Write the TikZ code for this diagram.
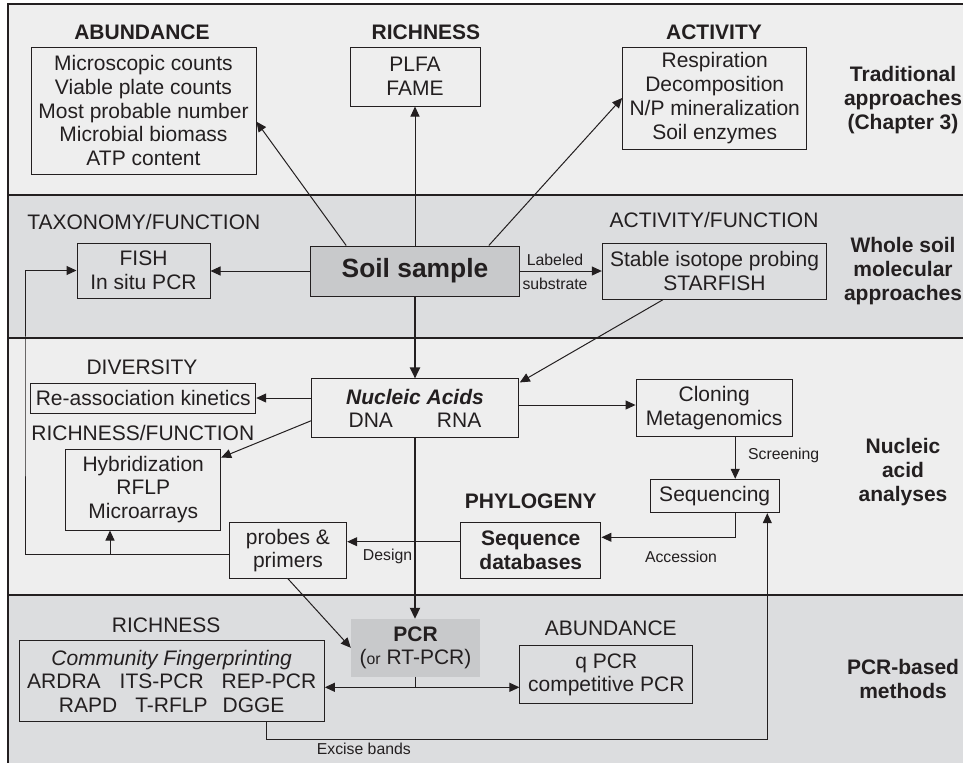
\documentclass[tikz,border=0pt]{standalone}
\usepackage{fontspec}
\setmainfont{Liberation Sans}
\usetikzlibrary{arrows.meta,calc}
\definecolor{bandL}{HTML}{EEEEEE}
\definecolor{bandD}{HTML}{DCDDDF}
\definecolor{boxD}{HTML}{C8C9CB}
\definecolor{ink}{HTML}{231F20}
\newcommand\fntN{\fontsize{21}{23.8}\selectfont}
\newcommand\fntS{\fontsize{15.8}{18}\selectfont}
\newcommand\fntL{\fontsize{26.4}{30}\selectfont\bfseries}
\begin{document}
\begin{tikzpicture}[x=1pt,y=-1pt,
 every node/.style={text=ink, font=\fntN},
 box/.style={draw=ink, line width=1pt, inner sep=0pt, align=center},
 ttl/.style={inner sep=0pt, align=center},
 btl/.style={inner sep=0pt, align=center, font=\fntN\bfseries},
 lbl/.style={inner sep=0pt, font=\fntS},
 arr/.style={draw=ink, line width=1pt, -{Triangle[length=10pt,width=9pt]}},
 tarr/.style={draw=ink, line width=2.2pt, -{Triangle[length=11pt,width=10pt]}},
 ln/.style={draw=ink, line width=1pt},
 sep/.style={draw=ink, line width=1.2pt}]
\useasboundingbox (0,0) rectangle (963,763);
% bands
\fill[bandL] (8,4) rectangle (963,195);
\fill[bandD] (8,195) rectangle (963,338);
\fill[bandL] (8,338) rectangle (963,595);
\fill[bandD] (8,595) rectangle (963,763);
\draw[sep] (963,4) -- (8,4) -- (8,763);
\draw[sep] (8,195) -- (963,195);
\draw[sep] (8,338) -- (963,338);
\draw[sep] (8,595) -- (963,595);

% titles
\node[btl] (tAb) at (142,32) {ABUNDANCE};
\node[btl] (tRi) at (426,32) {RICHNESS};
\node[btl] (tAc) at (714,32) {ACTIVITY};
\node[ttl] (tTax) at (143.8,221.7) {TAXONOMY/FUNCTION};
\node[ttl] (tAF) at (714,220) {ACTIVITY/FUNCTION};
\node[ttl] (tDiv) at (142,367) {DIVERSITY};
\node[ttl] (tRF) at (142.8,433) {RICHNESS/FUNCTION};
\node[btl] (tPhy) at (530.8,501.7) {PHYLOGENY};
\node[ttl] (tRi2) at (166.2,625) {RICHNESS};
\node[ttl] (tAb2) at (610.8,628.3) {ABUNDANCE};

% side labels
\node[btl] (sTr) at (903,100) {Traditional\\approaches\\(Chapter 3)};
\node[btl] (sWh) at (903,271) {Whole soil\\molecular\\approaches};
\node[btl] (sNu) at (903,472) {Nucleic\\acid\\analyses};
\node[btl] (sPc) at (903,679) {PCR-based\\methods};

% boxes
\node[box, minimum width=225pt, minimum height=127pt] (abund) at (143.5,110.5)
  {Microscopic counts\\Viable plate counts\\Most probable number\\Microbial biomass\\ATP content};
\node[box, minimum width=130pt, minimum height=59pt] (plfa) at (415,76.5) {PLFA\\FAME};
\node[box, minimum width=184pt, minimum height=102pt] (act) at (714.7,98)
  {Respiration\\Decomposition\\N/P mineralization\\Soil enzymes};
\node[box, fill=boxD, minimum width=208.6pt, minimum height=50pt, font=\fntL] (soil) at (415,271) {Soil sample};
\node[box, minimum width=133pt, minimum height=55pt] (fish) at (143.5,270.5) {FISH\\In situ PCR};
\node[box, minimum width=224.4pt, minimum height=56pt] (sip) at (714.5,271.3) {Stable isotope probing\\STARFISH};
\node[box, minimum width=225pt, minimum height=30pt] (reassoc) at (143.2,398) {Re-association kinetics};
\node[box, minimum width=155pt, minimum height=81pt] (hyb) at (143.2,489.5) {Hybridization\\RFLP\\Microarrays};
\node[box, minimum width=206.6pt, minimum height=58.7pt] (na) at (415,408.3)
  {{\bfseries\itshape Nucleic Acids}\\DNA\hspace{44pt}RNA};
\node[box, minimum width=156.3pt, minimum height=57.4pt] (clon) at (714.2,408) {Cloning\\Metagenomics};
\node[box, minimum width=129.3pt, minimum height=33.4pt] (seq) at (714.7,496) {Sequencing};
\node[box, minimum width=140.3pt, minimum height=56pt, font=\fntN\bfseries] (sdb) at (530.8,550.3) {Sequence\\databases};
\node[box, minimum width=117.4pt, minimum height=55.6pt] (probes) at (288,550.5) {probes \&\\primers};
\node[fill=boxD, inner sep=0pt, align=center, minimum width=129pt, minimum height=57.7pt] (pcr) at (415.5,647.8)
  {\textbf{PCR}\\({\fntS or} RT-PCR)};
\node[box, minimum width=305.3pt, minimum height=80.7pt] (finger) at (171.7,681.3)
  {\itshape Community Fingerprinting\\ARDRA\hspace{19pt}ITS-PCR\hspace{18pt}REP-PCR\\RAPD\hspace{18pt}T-RFLP\hspace{15pt}DGGE};
\node[box, minimum width=172.7pt, minimum height=58.3pt] (qpcr) at (606.3,674.8) {q PCR\\competitive PCR};

% connector labels
\node[lbl] (lLab) at (555,260) {Labeled};
\node[lbl] (lSub) at (555,284) {substrate};
\node[lbl] (lScr) at (783.7,455) {Screening};
\node[lbl] (lAcc) at (681,556.7) {Accession};
\node[lbl] (lDes) at (387.5,556.7) {Design};
\node[lbl] (lExc) at (363.8,749.3) {Excise bands};

% helper points
\coordinate (cNaW1) at ($(na.west)+(0,-10.3)$);
\coordinate (cNaW2) at ($(na.west)+(0,12.4)$);
\coordinate (cNaE) at ($(na.east)+(0,-3.3)$);
\coordinate (cClS) at ($(clon.south)+(21,0)$);
\coordinate (cSqS) at ($(seq.south)+(20.5,0)$);
\coordinate (cSdE) at ($(sdb.east)+(0,-13)$);
\coordinate (cSdW) at ($(sdb.west)+(0,-8.6)$);
\coordinate (cPrW) at ($(probes.west)+(0,3.5)$);
\coordinate (lx) at (25,400);
\coordinate (cHyS) at ($(hyb.south)+(-33.2,0)$);
\coordinate (cFgE) at ($(finger.east)+(0,6)$);
\coordinate (cFgS) at ($(finger.south)+(95,0)$);
\coordinate (cSqX) at ($(seq.south)+(52.6,0)$);
\coordinate (ex) at (500,739);

% connectors
\draw[arr] ($(soil.north west)+(36,0)$) -- ($(abund.east)+(0,11.2)$);
\draw[arr] (soil.north) -- (plfa.south);
\draw[arr] ($(soil.north east)+(-31,0)$) -- (act.west);
\draw[arr] (soil.west) -- (soil.west -| fish.east);
\draw[arr] (soil.east) -- (soil.east -| sip.west);
\draw[arr] ($(sip.south west)+(61,0)$) -- ($(na.north east)+(1,4)$);
\draw[tarr] (soil.south) -- (na.north);
\draw[arr] (cNaW1) -- (cNaW1 -| reassoc.east);
\draw[arr] (cNaW2) -- ($(hyb.north east)+(0,9)$);
\draw[arr] (cNaE) -- (cNaE -| clon.west);
\draw[tarr] (na.south) -- (na.south |- pcr.north);
\draw[arr] (cClS) -- (cClS |- seq.north);
\draw[arr] (cSqS) |- (cSdE);
\draw[arr] (cSdW) -- (cSdW -| probes.east);
\draw[arr] (cPrW) -| (lx) |- (fish.west);
\draw[arr] (cPrW -| cHyS) -- (cHyS);
\draw[arr] (probes.south) -- (pcr.west);
\draw[ln] (pcr.south) -- (pcr.south |- cFgE);
\draw[draw=ink, line width=1pt, {Triangle[length=10pt,width=9pt]}-{Triangle[length=10pt,width=9pt]}]
  (cFgE) -- (cFgE -| qpcr.west);
\draw[arr] (cFgS) |- (ex) -| (cSqX);
\end{tikzpicture}
\end{document}
